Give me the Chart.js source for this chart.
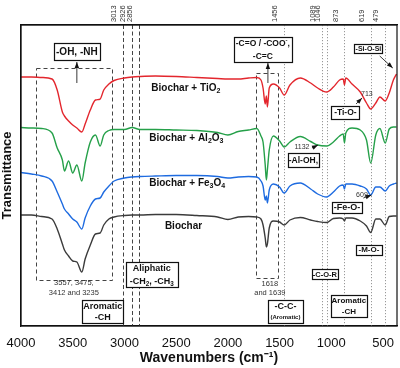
<!DOCTYPE html>
<html>
<head>
<meta charset="utf-8">
<script src="https://cdn.jsdelivr.net/npm/chart.js@4.4.1/dist/chart.umd.min.js"></script>
<style>
  body { margin: 0; background: #fff; }
  canvas { display: block; }
</style>
</head>
<body>
<canvas id="chart1" width="400" height="368"></canvas>
<script>
// FTIR spectra, transmittance in arbitrary units (curves stacked)
const wavenumbers = [4000, 3900, 3800, 3700, 3650, 3600, 3580, 3540, 3500, 3460, 3412, 3380, 3330, 3280, 3235, 3200, 3150, 3100, 3000, 2926, 2850, 2700, 2500, 2300, 2100, 2000, 1900, 1800, 1720, 1680, 1660, 1639, 1628, 1618, 1600, 1560, 1500, 1456, 1400, 1300, 1200, 1132, 1046, 980, 920, 885, 873, 860, 800, 720, 660, 619, 570, 530, 479, 440, 400, 370];

const tio2 = [249, 249, 248.5, 247, 236, 214, 210, 205, 201, 198, 194, 202, 216, 226, 227, 236, 242, 245.5, 248, 249, 249.5, 250, 249.5, 248.5, 247.5, 247, 247, 248, 248.5, 246, 238, 222, 230, 219, 238, 242, 238, 231, 241, 248, 243, 238, 234, 239, 246, 247, 241, 248, 242, 234, 223, 217, 223, 229, 225, 233, 246, 252];
const al2o3 = [198.5, 198, 197.5, 193, 178, 166, 155, 165, 153, 161, 145, 163, 184, 191, 180, 191, 195.5, 196.5, 196.5, 198.5, 196.5, 196.5, 196, 195.5, 193.5, 191, 194.5, 196, 197.5, 190, 184, 161, 146, 156, 176, 190, 185, 179, 184, 189.5, 184.5, 181, 180, 184, 190, 192, 183, 193, 198, 196, 186, 163, 191, 197.5, 183, 197, 199, 199];
const fe3o4 = [153.5, 152, 150, 145, 134, 122, 117, 112, 107, 104, 97, 108, 120, 127, 128, 134, 140, 145, 148, 149, 149.5, 150, 150.5, 150.5, 149.5, 148, 149, 149.5, 149, 145, 140, 126, 130, 123, 136, 142, 139, 133, 140, 143, 137, 132, 129, 134, 140, 141, 137, 142, 142, 140, 137, 131, 139, 139, 135, 140, 142, 143];
const biochar = [111, 111, 109.5, 107, 97, 82, 76, 70, 65, 64, 54, 67, 81, 92, 93, 101, 107, 109, 110.5, 111, 111, 111.5, 111.5, 110.5, 109, 106.5, 109, 109.5, 109, 107, 101, 88, 79, 82, 98, 105, 104, 101, 106, 108.5, 106, 104.5, 103.5, 107.5, 108, 107, 105, 108, 108, 105, 100, 93.5, 107, 107, 101, 109.5, 110, 110];

const xTicks = [4000, 3500, 3000, 2500, 2000, 1500, 1000, 500];
const bandTicks = [3013, 2926, 2856, 1456, 1089, 1046, 873, 619, 479];

const FONT = '"Liberation Sans", Arial, sans-serif';
Chart.defaults.font.family = FONT;

const pts = arr => wavenumbers.map((w, i) => ({ x: w, y: arr[i] }));

// labels and boxes, placed in data units (wavenumber, transmittance)
const boxes = [
  { x: 3460, y: 274.5, w: 46, h: 17, lines: [{ t: '-OH, -NH', s: 10 }] },
  { x: 3209, y: 14.5, w: 41, h: 23, lines: [{ t: 'Aromatic', s: 9 }, { t: '-CH', s: 9 }] },
  { x: 2735, y: 51.5, w: 52, h: 25, lines: [{ t: 'Aliphatic', s: 9 }, { t: ['-CH', '_2', ', -CH', '_3'], s: 9 }] },
  { x: 1662, y: 276.5, w: 58, h: 25, lines: [{ t: ['-C=O / -COO', '^-', ','], s: 8.5 }, { t: '-C=C', s: 8.5 }] },
  { x: 1444, y: 14.5, w: 35, h: 23, lines: [{ t: '-C-C-', s: 9 }, { t: '(Aromatic)', s: 6 }] },
  { x: 1062, y: 52, w: 26, h: 10, lines: [{ t: '-C-O-R', s: 7.5 }] },
  { x: 830, y: 20, w: 36, h: 22, lines: [{ t: 'Aromatic', s: 8 }, { t: '-CH', s: 8 }] },
  { x: 636, y: 76.5, w: 26, h: 10, lines: [{ t: '-M-O-', s: 8 }] },
  { x: 849, y: 118.5, w: 30, h: 11, lines: [{ t: '-Fe-O-', s: 9 }] },
  { x: 1270, y: 166, w: 31, h: 14, lines: [{ t: '-Al-OH,', s: 8.5 }] },
  { x: 864, y: 214, w: 28, h: 13, lines: [{ t: '-Ti-O-', s: 8.5 }] },
  { x: 641, y: 277, w: 28, h: 9, lines: [{ t: '-Si-O-Si', s: 7 }] }
];

const notes = [
  { x: 3489, y: 43, t: '3557, 3475,', s: 7.5 },
  { x: 3489, y: 33, t: '3412 and 3235', s: 7.5 },
  { x: 1594, y: 42, t: '1618', s: 7.5 },
  { x: 1594, y: 33, t: 'and 1639', s: 7.5 },
  { x: 704, y: 131, t: '609', s: 7 },
  { x: 1284, y: 179, t: '1132', s: 7 },
  { x: 656, y: 232, t: '713', s: 7 }
];

const seriesLabels = [
  { x: 2740, y: 238, t: ['Biochar + TiO', '_2'] },
  { x: 2760, y: 188, t: ['Biochar + Al', '_2', 'O', '_3'] },
  { x: 2760, y: 143, t: ['Biochar + Fe', '_3', 'O', '_4'] },
  { x: 2609, y: 100, t: ['Biochar'] }
];

const arrows = [
  [3460, 243, 3460, 264],
  [1613, 243, 1613, 263],
  [690, 128, 612, 131],
  [1187, 178, 1129, 181],
  [761, 222, 703, 228],
  [532, 270, 406, 258]
];

const dashedRects = [
  [3857, 258, 3125, 46],
  [1729, 252.7, 1514, 48]
];

function rich(ctx, segs, x, y, size, bold, align) {
  const list = Array.isArray(segs) ? segs : [segs];
  const parts = list.map(s => {
    if (s[0] === '_') return { t: s.slice(1), s: size * 0.7, dy: size * 0.3 };
    if (s[0] === '^') return { t: s.slice(1), s: size * 0.7, dy: -size * 0.35 };
    return { t: s, s: size, dy: 0 };
  });
  const font = s => (bold ? 'bold ' : '') + s + 'px ' + FONT;
  let total = 0;
  parts.forEach(p => { ctx.font = font(p.s); p.w = ctx.measureText(p.t).width; total += p.w; });
  let cx = align === 'left' ? x : x - total / 2;
  ctx.textAlign = 'left';
  ctx.textBaseline = 'middle';
  parts.forEach(p => {
    ctx.font = font(p.s);
    ctx.fillText(p.t, cx, y + p.dy);
    cx += p.w;
  });
}

function arrow(ctx, x1, y1, x2, y2) {
  ctx.beginPath();
  ctx.moveTo(x1, y1);
  ctx.lineTo(x2, y2);
  ctx.stroke();
  const a = Math.atan2(y2 - y1, x2 - x1);
  const hl = 6, hw = 2.2;
  ctx.beginPath();
  ctx.moveTo(x2, y2);
  ctx.lineTo(x2 - hl * Math.cos(a) + hw * Math.sin(a), y2 - hl * Math.sin(a) - hw * Math.cos(a));
  ctx.lineTo(x2 - hl * Math.cos(a) - hw * Math.sin(a), y2 - hl * Math.sin(a) + hw * Math.cos(a));
  ctx.closePath();
  ctx.fill();
}

const decor = {
  id: 'decor',
  beforeDatasetsDraw(chart) {
    const { ctx, chartArea: a, scales: { x, y } } = chart;
    ctx.save();
    ctx.lineWidth = 1;
    bandTicks.forEach((w, i) => {
      const px = Math.round(x.getPixelForValue(w)) + 0.5;
      ctx.setLineDash(i < 3 ? [4, 2.5] : [1.2, 1.8]);
      ctx.strokeStyle = i < 3 ? '#444' : '#999';
      ctx.beginPath();
      ctx.moveTo(px, a.top);
      ctx.lineTo(px, a.bottom);
      ctx.stroke();
    });
    ctx.setLineDash([4, 3]);
    ctx.strokeStyle = '#444';
    dashedRects.forEach(r => {
      const x1 = Math.round(x.getPixelForValue(r[0])) + 0.5, y1 = Math.round(y.getPixelForValue(r[1])) + 0.5;
      const x2 = Math.round(x.getPixelForValue(r[2])) + 0.5, y2 = Math.round(y.getPixelForValue(r[3])) + 0.5;
      ctx.strokeRect(x1, y1, x2 - x1, y2 - y1);
    });
    ctx.restore();
  },
  afterDatasetsDraw(chart) {
    const { ctx, chartArea: a, scales: { x, y } } = chart;
    ctx.save();
    ctx.setLineDash([]);
    // arrows
    ctx.strokeStyle = '#222';
    ctx.fillStyle = '#111';
    ctx.lineWidth = 0.9;
    arrows.forEach(r => arrow(ctx, x.getPixelForValue(r[0]), y.getPixelForValue(r[1]), x.getPixelForValue(r[2]), y.getPixelForValue(r[3])));
    // boxes
    boxes.forEach(b => {
      const cx = x.getPixelForValue(b.x), cy = y.getPixelForValue(b.y);
      const l = Math.round(cx - b.w / 2) + 0.5, t = Math.round(cy - b.h / 2) + 0.5;
      ctx.fillStyle = '#fff';
      ctx.fillRect(l, t, b.w, b.h);
      ctx.strokeStyle = '#111';
      ctx.lineWidth = 1.2;
      ctx.strokeRect(l, t, b.w, b.h);
      ctx.fillStyle = '#111';
      const n = b.lines.length;
      const step = b.h / n;
      b.lines.forEach((ln, i) => {
        rich(ctx, ln.t, cx, cy - b.h / 2 + step * (i + 0.5) + 0.5, ln.s, true, 'center');
      });
    });
    // small numbers
    ctx.fillStyle = '#333';
    notes.forEach(nt => rich(ctx, nt.t, x.getPixelForValue(nt.x), y.getPixelForValue(nt.y), nt.s, false, 'center'));
    // series names
    ctx.fillStyle = '#111';
    seriesLabels.forEach(sl => rich(ctx, sl.t, x.getPixelForValue(sl.x), y.getPixelForValue(sl.y), 10, true, 'left'));
    // frame
    ctx.strokeStyle = '#111';
    ctx.lineWidth = 1.2;
    ctx.strokeRect(a.left, a.top, a.right - a.left, a.bottom - a.top);
    ctx.restore();
  }
};

const ctx1 = document.getElementById('chart1');

new Chart(ctx1, {
  type: 'line',
  data: {
    datasets: [
      { label: 'Biochar + TiO2', data: pts(tio2), borderColor: '#e3262d' },
      { label: 'Biochar + Al2O3', data: pts(al2o3), borderColor: '#25a049' },
      { label: 'Biochar + Fe3O4', data: pts(fe3o4), borderColor: '#1e6be0' },
      { label: 'Biochar', data: pts(biochar), borderColor: '#3b3b3b' }
    ]
  },
  options: {
    responsive: false,
    animation: false,
    devicePixelRatio: 1,
    layout: { padding: { left: 0, right: 3, top: 0, bottom: 0 } },
    elements: {
      point: { radius: 0 },
      line: { borderWidth: 1.4, cubicInterpolationMode: 'monotone', fill: false }
    },
    plugins: {
      legend: { display: false },
      tooltip: { enabled: false }
    },
    scales: {
      x: {
        type: 'linear',
        reverse: true,
        min: 365,
        max: 4000,
        afterBuildTicks: s => { s.ticks = xTicks.map(v => ({ value: v })); },
        afterFit: s => { s.height = 42; },
        ticks: { callback: v => String(v), font: { size: 13 }, color: '#111', padding: 3, maxRotation: 0, autoSkip: false },
        grid: { display: false, drawTicks: true, tickLength: 7 },
        border: { color: '#111', width: 1.2 },
        title: { display: true, text: 'Wavenumbers (cm⁻¹)', font: { size: 14, weight: 'bold' }, color: '#111', padding: { top: 0, bottom: 1 } }
      },
      x2: {
        type: 'linear',
        position: 'top',
        reverse: true,
        min: 365,
        max: 4000,
        afterBuildTicks: s => { s.ticks = bandTicks.map(v => ({ value: v })); },
        afterFit: s => { s.height = 25; },
        ticks: { callback: v => String(v), font: { size: 7.5 }, color: '#333', padding: 3, minRotation: 90, maxRotation: 90, autoSkip: false },
        grid: { display: false, drawTicks: false },
        border: { color: '#111', width: 1.2 }
      },
      y: {
        min: 0,
        max: 301,
        afterFit: s => { s.width = 21; },
        ticks: { display: false },
        grid: { display: false, drawTicks: false },
        border: { color: '#111', width: 1.2 },
        title: { display: true, text: 'Transmittance', font: { size: 13, weight: 'bold' }, color: '#111', padding: { top: 0, bottom: 0 } }
      }
    }
  },
  plugins: [decor]
});
</script>
</body>
</html>
